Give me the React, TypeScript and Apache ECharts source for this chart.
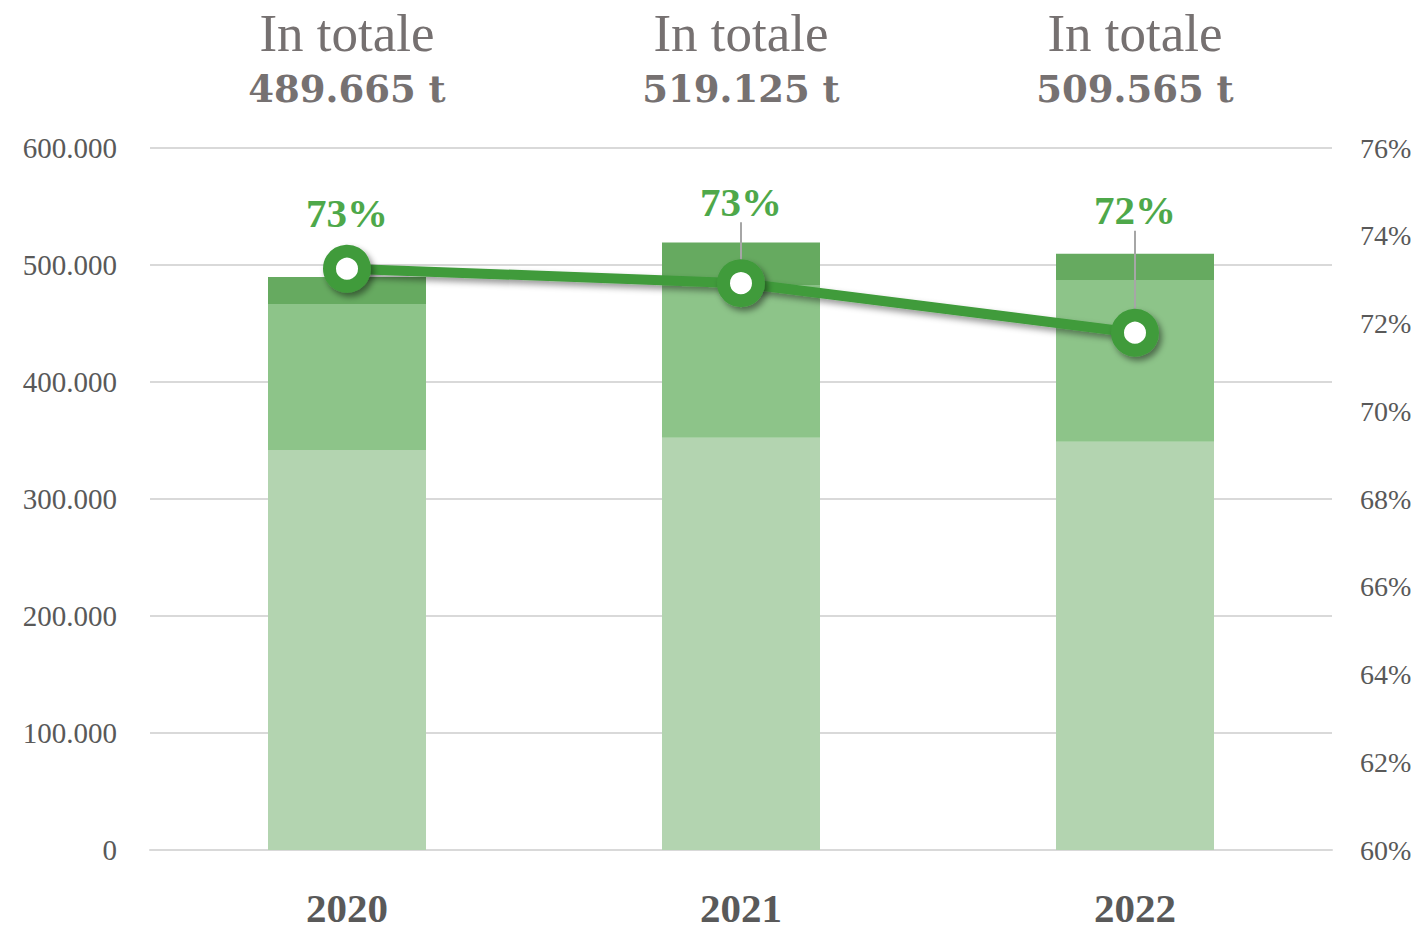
import React, { useEffect, useRef } from "react";
import * as echarts from "echarts";

const categories = ["2020", "2021", "2022"];
const baseValues = [341900, 352400, 349000];
const middleValues = [124800, 130500, 138200];
const topValues = [22965, 36225, 22365];
const totals = [489665, 519125, 509565];
const shareValues = [73.25, 72.92, 71.79];
const labelShift = [0, -26, -67];

const fmtThousands = (v: number) =>
  String(Math.round(v)).replace(/\B(?=(\d{3})+(?!\d))/g, ".");

export default function App() {
  const ref = useRef<HTMLDivElement>(null);
  useEffect(() => {
    if (!ref.current) return;
    const chart = echarts.init(ref.current, null, { renderer: "svg" });
    const serif = "Liberation Serif";
    chart.setOption({
      animation: false,
      backgroundColor: "#ffffff",
      grid: { left: 150, right: 84, top: 148, bottom: 79, containLabel: false },
      xAxis: [
        {
          type: "category",
          data: categories,
          position: "bottom",
          axisLine: { show: true, lineStyle: { color: "#d9d9d9", width: 2 } },
          axisTick: { show: false },
          axisLabel: {
            margin: 37,
            fontSize: 41,
            lineHeight: 41,
            fontWeight: "bold",
            fontFamily: serif,
            color: "#595959",
          },
        },
        {
          type: "category",
          data: categories,
          position: "top",
          axisLine: { show: false },
          axisTick: { show: false },
          splitLine: { show: false },
          axisLabel: {
            margin: 31,
            formatter: (_v: string, i: number) =>
              `{a|In totale}\n{b|${fmtThousands(totals[i])} t}`,
            rich: {
              a: { fontSize: 53, fontFamily: serif, color: "#767171", lineHeight: 56 },
              b: {
                fontSize: 37,
                fontFamily: "DejaVu Serif",
                fontWeight: "bold",
                color: "#767171",
                lineHeight: 56,
              },
            },
          },
        },
      ],
      yAxis: [
        {
          type: "value",
          min: 0,
          max: 600000,
          interval: 100000,
          axisLine: { show: false },
          axisTick: { show: false },
          splitLine: { lineStyle: { color: "#d9d9d9", width: 2 } },
          axisLabel: {
            margin: 33,
            fontSize: 29,
            fontFamily: serif,
            color: "#595959",
            formatter: (v: number) => fmtThousands(v),
          },
        },
        {
          type: "value",
          position: "right",
          min: 60,
          max: 76,
          interval: 2,
          axisLine: { show: false },
          axisTick: { show: false },
          splitLine: { show: false },
          axisLabel: {
            margin: 28,
            fontSize: 28,
            fontFamily: serif,
            color: "#595959",
            formatter: (v: number) => `${v}%`,
          },
        },
      ],
      series: [
        {
          type: "bar",
          stack: "total",
          barWidth: 158,
          data: baseValues,
          itemStyle: { color: "#b3d4b0" },
        },
        {
          type: "bar",
          stack: "total",
          barWidth: 158,
          data: middleValues,
          itemStyle: { color: "#8dc489" },
        },
        {
          type: "bar",
          stack: "total",
          barWidth: 158,
          data: topValues,
          itemStyle: { color: "#66aa60" },
        },
        {
          type: "line",
          yAxisIndex: 1,
          z: 10,
          data: shareValues.map((v, i) => ({
            value: v,
            labelLine: { show: i !== 0 },
          })),
          symbol: "circle",
          symbolSize: 35,
          lineStyle: {
            color: "#3f9b3b",
            width: 10,
            shadowBlur: 6,
            shadowColor: "rgba(0,0,0,0.4)",
            shadowOffsetX: 3,
            shadowOffsetY: 4,
          },
          itemStyle: {
            color: "#ffffff",
            borderColor: "#3f9b3b",
            borderWidth: 13,
            shadowBlur: 6,
            shadowColor: "rgba(0,0,0,0.45)",
            shadowOffsetX: 3,
            shadowOffsetY: 4,
          },
          label: {
            show: true,
            position: "top",
            distance: 11,
            fontSize: 41,
            fontWeight: "bold",
            fontFamily: serif,
            color: "#4ea84a",
            formatter: (p: any) => `${Math.round(p.value)}%`,
          },
          labelLine: {
            show: true,
            lineStyle: { color: "#a6a6a6", width: 2 },
          },
          labelLayout: (params: any) => ({ dy: labelShift[params.dataIndex] }),
        },
      ],
    });
    return () => chart.dispose();
  }, []);
  return (
    <div
      ref={ref}
      style={{ position: "absolute", left: 0, top: 0, width: 1416, height: 929 }}
    />
  );
}
